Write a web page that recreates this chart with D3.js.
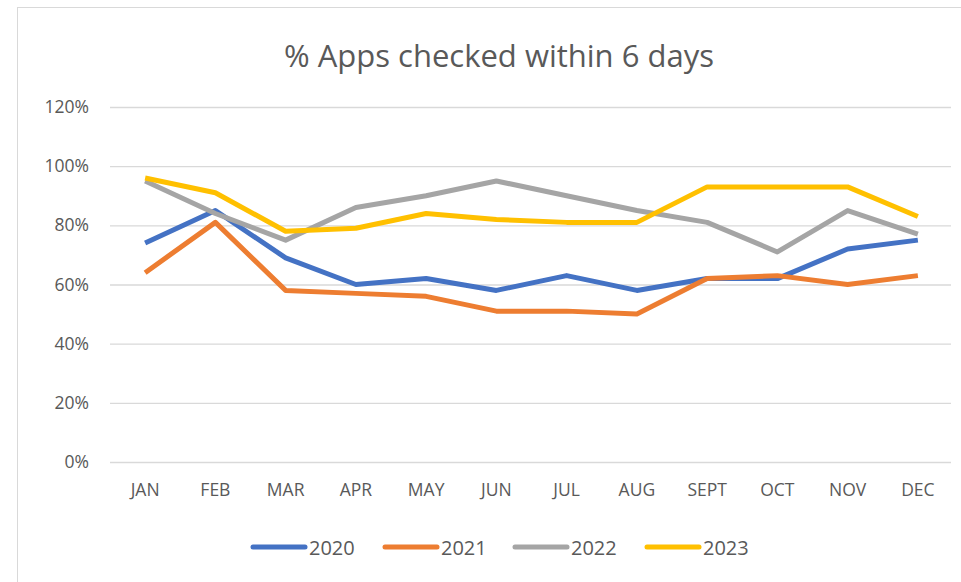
<!DOCTYPE html>
<html>
<head>
<meta charset="utf-8">
<script src="https://cdn.jsdelivr.net/npm/d3@7"></script>
<style>
  html, body { margin: 0; padding: 0; background: #fff; }
  svg { display: block; }
</style>
</head>
<body>
<div id="chart"></div>
<script>
// chart data
const months = ['JAN', 'FEB', 'MAR', 'APR', 'MAY', 'JUN', 'JUL', 'AUG', 'SEPT', 'OCT', 'NOV', 'DEC'];
const years = ['2020', '2021', '2022', '2023'];
const v2020 = [74, 85, 69, 60, 62, 58, 63, 58, 62, 62, 72, 75];
const v2021 = [64, 81, 58, 57, 56, 51, 51, 50, 62, 63, 60, 63];
const v2022 = [95, 84, 75, 86, 90, 95, 90, 85, 81, 71, 85, 77];
const v2023 = [96, 91, 78, 79, 84, 82, 81, 81, 93, 93, 93, 83];
const yTicks = [0, 20, 40, 60, 80, 100, 120];
const colors = ['#4472C4', '#ED7D31', '#A5A5A5', '#FFC000'];

const series = years.map((y, i) => ({ name: y, values: [v2020, v2021, v2022, v2023][i], color: colors[i] }));

const W = 961, H = 582;
const margin = { top: 107, right: 8, bottom: 120, left: 110 };

const svg = d3.select('#chart').append('svg')
	.attr('width', W)
	.attr('height', H);

// outer frame
svg.append('rect')
	.attr('x', 17.5).attr('y', 7.5)
	.attr('width', W).attr('height', H)
	.attr('fill', '#fff')
	.attr('stroke', '#d9d9d9');

const x = d3.scaleBand()
	.domain(months)
	.range([margin.left, 953]);

const y = d3.scaleLinear()
	.domain([0, 120])
	.range([462, margin.top]);

// title
svg.append('text')
	.attr('x', 499).attr('y', 67)
	.attr('text-anchor', 'middle')
	.attr('font-family', 'Open Sans, sans-serif')
	.attr('font-size', 31)
	.attr('fill', '#595959')
	.text('% Apps checked within 6 days');

// gridlines + y labels
const yAxis = svg.append('g')
	.attr('transform', `translate(${margin.left},0)`)
	.call(d3.axisLeft(y).tickValues(yTicks).tickSize(-(951 - margin.left)).tickPadding(21).tickFormat(d => d + '%'));
yAxis.select('.domain').remove();
yAxis.selectAll('.tick line').attr('stroke', '#d9d9d9').attr('stroke-width', 1.3);
yAxis.selectAll('.tick text')
	.attr('fill', '#595959')
	.attr('font-family', 'Open Sans, sans-serif')
	.attr('font-size', 17.5);

// x labels
const xAxis = svg.append('g')
	.attr('transform', 'translate(0,462)')
	.call(d3.axisBottom(x).tickSize(0).tickPadding(22));
xAxis.select('.domain').remove();
xAxis.selectAll('.tick text')
	.attr('fill', '#595959')
	.attr('font-family', 'Open Sans, sans-serif')
	.attr('font-size', 17.5);

// lines
const line = d3.line()
	.x((d, i) => x(months[i]) + x.bandwidth() / 2)
	.y(d => y(d));

svg.append('g').selectAll('path')
	.data(series)
	.join('path')
	.attr('fill', 'none')
	.attr('stroke', d => d.color)
	.attr('stroke-width', 5)
	.attr('stroke-linejoin', 'round')
	.attr('d', d => line(d.values));

// legend
const legendX = [253, 385, 515, 647];
const lg = svg.append('g').selectAll('g')
	.data(series)
	.join('g')
	.attr('transform', (d, i) => `translate(${legendX[i]},547)`);
lg.append('line')
	.attr('x1', 0).attr('x2', 52)
	.attr('stroke', d => d.color)
	.attr('stroke-width', 5)
	.attr('stroke-linecap', 'round');
lg.append('text')
	.attr('x', 56).attr('y', 7.5)
	.attr('fill', '#595959')
	.attr('font-family', 'Open Sans, sans-serif')
	.attr('font-size', 20)
	.text(d => d.name);
</script>
</body>
</html>
